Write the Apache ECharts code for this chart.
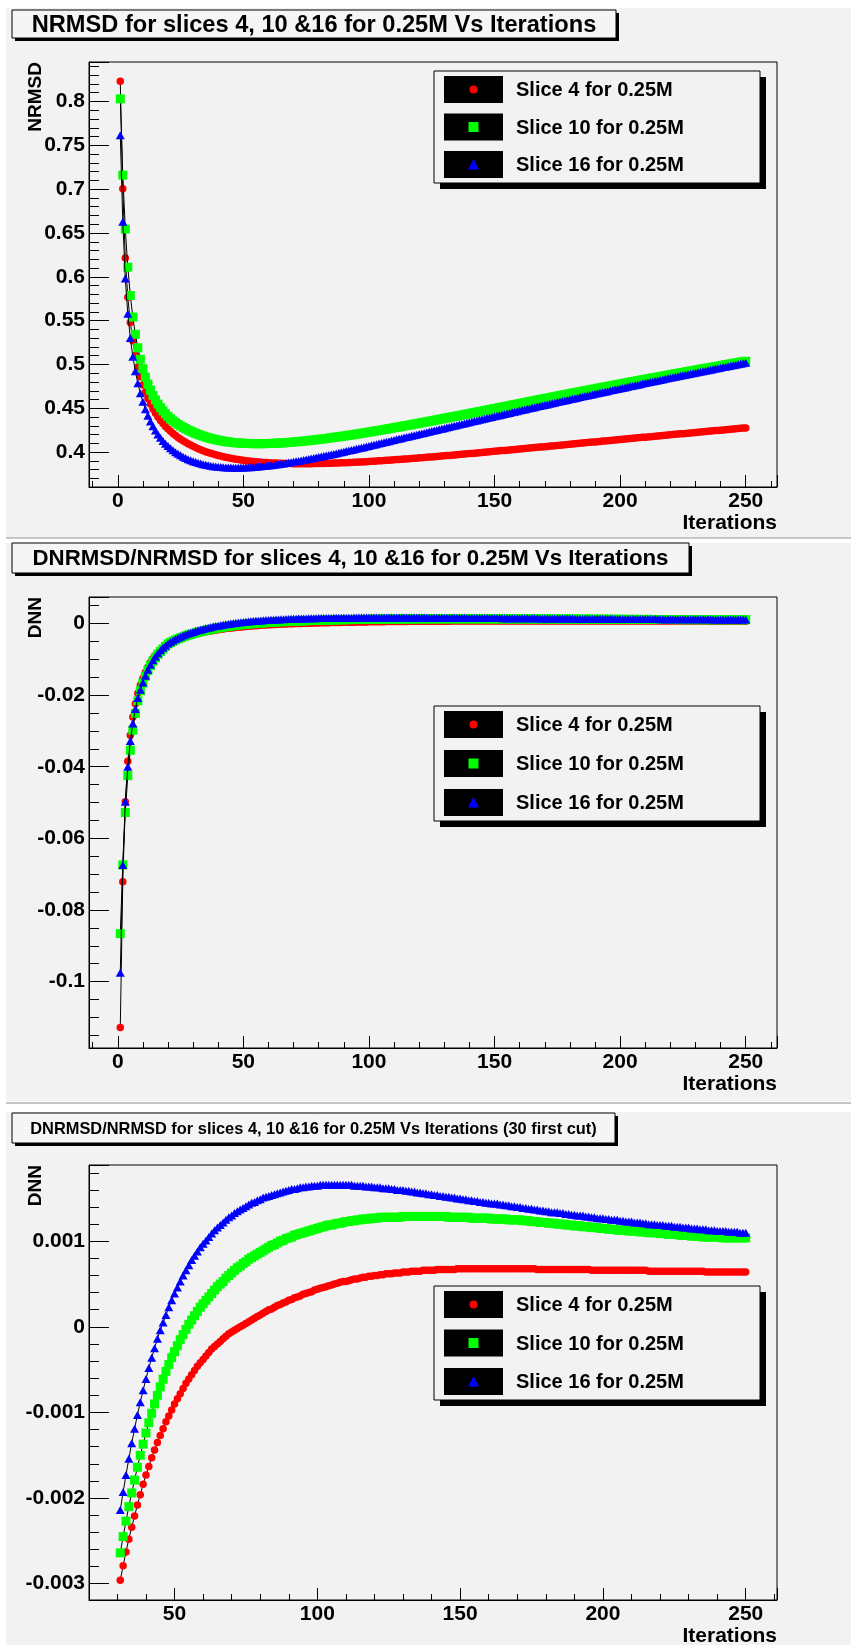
<!DOCTYPE html>
<html>
<head>
<meta charset="utf-8">
<script src="https://cdn.jsdelivr.net/npm/echarts@6/dist/echarts.min.js"></script>
<style>
  html, body { margin: 0; padding: 0; background: #ffffff; }
  #chart { width: 851px; height: 1645px; }
</style>
</head>
<body>
<div id="chart"></div>
<script>
// Iteration numbers (x values)
const iterations = [];
for (let i = 1; i <= 250; i++) iterations.push(i);

// Series labels
const seriesNames = ['Slice 4 for 0.25M', 'Slice 10 for 0.25M', 'Slice 16 for 0.25M'];

// NRMSD per iteration
const nrmsdSlice4 = [
  0.8230, 0.7005, 0.6215, 0.5767, 0.5480, 0.5270, 0.5105, 0.4972, 0.4861, 0.4766,
  0.4684, 0.4612, 0.4549, 0.4493, 0.4444, 0.4400, 0.4361, 0.4326, 0.4294, 0.4265,
  0.4238, 0.4213, 0.4190, 0.4168, 0.4148, 0.4129, 0.4112, 0.4096, 0.4081, 0.4067,
  0.4053, 0.4040, 0.4028, 0.4017, 0.4006, 0.3996, 0.3987, 0.3978, 0.3970, 0.3962,
  0.3955, 0.3948, 0.3942, 0.3936, 0.3930, 0.3925, 0.3920, 0.3915, 0.3911, 0.3907,
  0.3903, 0.3899, 0.3896, 0.3893, 0.3890, 0.3887, 0.3885, 0.3883, 0.3881, 0.3879,
  0.3877, 0.3876, 0.3875, 0.3874, 0.3873, 0.3872, 0.3871, 0.3870, 0.3870, 0.3869,
  0.3869, 0.3869, 0.3869, 0.3869, 0.3869, 0.3869, 0.3869, 0.3870, 0.3870, 0.3871,
  0.3871, 0.3872, 0.3873, 0.3873, 0.3874, 0.3875, 0.3876, 0.3877, 0.3878, 0.3879,
  0.3880, 0.3881, 0.3883, 0.3884, 0.3885, 0.3887, 0.3888, 0.3890, 0.3891, 0.3893,
  0.3895, 0.3897, 0.3899, 0.3901, 0.3903, 0.3905, 0.3907, 0.3909, 0.3911, 0.3913,
  0.3915, 0.3917, 0.3919, 0.3921, 0.3923, 0.3926, 0.3928, 0.3930, 0.3932, 0.3935,
  0.3937, 0.3939, 0.3942, 0.3944, 0.3946, 0.3949, 0.3951, 0.3954, 0.3956, 0.3958,
  0.3961, 0.3963, 0.3966, 0.3968, 0.3971, 0.3973, 0.3976, 0.3978, 0.3981, 0.3984,
  0.3986, 0.3989, 0.3991, 0.3994, 0.3997, 0.3999, 0.4002, 0.4004, 0.4007, 0.4010,
  0.4012, 0.4015, 0.4018, 0.4020, 0.4023, 0.4026, 0.4028, 0.4031, 0.4034, 0.4036,
  0.4039, 0.4042, 0.4044, 0.4047, 0.4050, 0.4052, 0.4055, 0.4058, 0.4060, 0.4063,
  0.4066, 0.4069, 0.4071, 0.4074, 0.4077, 0.4079, 0.4082, 0.4085, 0.4088, 0.4090,
  0.4093, 0.4096, 0.4098, 0.4101, 0.4104, 0.4107, 0.4109, 0.4112, 0.4115, 0.4117,
  0.4120, 0.4123, 0.4126, 0.4128, 0.4131, 0.4134, 0.4136, 0.4139, 0.4142, 0.4145,
  0.4147, 0.4150, 0.4153, 0.4155, 0.4158, 0.4161, 0.4163, 0.4166, 0.4169, 0.4171,
  0.4174, 0.4177, 0.4179, 0.4182, 0.4185, 0.4187, 0.4190, 0.4193, 0.4195, 0.4198,
  0.4201, 0.4203, 0.4206, 0.4209, 0.4211, 0.4214, 0.4217, 0.4219, 0.4222, 0.4225,
  0.4227, 0.4230, 0.4233, 0.4235, 0.4238, 0.4241, 0.4243, 0.4246, 0.4248, 0.4251,
  0.4254, 0.4256, 0.4259, 0.4262, 0.4264, 0.4267, 0.4269, 0.4272, 0.4275, 0.4277
];
const nrmsdSlice10 = [
  0.8030, 0.7160, 0.6545, 0.6110, 0.5787, 0.5541, 0.5345, 0.5190, 0.5060, 0.4952,
  0.4856, 0.4776, 0.4708, 0.4648, 0.4595, 0.4549, 0.4508, 0.4470, 0.4437, 0.4408,
  0.4381, 0.4358, 0.4337, 0.4318, 0.4299, 0.4283, 0.4268, 0.4253, 0.4240, 0.4227,
  0.4215, 0.4204, 0.4193, 0.4183, 0.4174, 0.4165, 0.4157, 0.4150, 0.4143, 0.4137,
  0.4131, 0.4126, 0.4121, 0.4117, 0.4113, 0.4110, 0.4107, 0.4105, 0.4103, 0.4101,
  0.4100, 0.4099, 0.4098, 0.4097, 0.4097, 0.4097, 0.4097, 0.4097, 0.4098, 0.4099,
  0.4100, 0.4101, 0.4102, 0.4104, 0.4105, 0.4107, 0.4109, 0.4111, 0.4113, 0.4116,
  0.4118, 0.4121, 0.4123, 0.4126, 0.4129, 0.4132, 0.4135, 0.4139, 0.4142, 0.4145,
  0.4149, 0.4152, 0.4156, 0.4160, 0.4164, 0.4168, 0.4172, 0.4176, 0.4180, 0.4184,
  0.4188, 0.4192, 0.4197, 0.4201, 0.4206, 0.4210, 0.4215, 0.4219, 0.4224, 0.4229,
  0.4234, 0.4239, 0.4243, 0.4248, 0.4253, 0.4258, 0.4263, 0.4268, 0.4273, 0.4278,
  0.4283, 0.4288, 0.4294, 0.4299, 0.4304, 0.4309, 0.4314, 0.4320, 0.4325, 0.4330,
  0.4336, 0.4341, 0.4346, 0.4352, 0.4357, 0.4363, 0.4368, 0.4374, 0.4379, 0.4385,
  0.4390, 0.4396, 0.4401, 0.4407, 0.4412, 0.4418, 0.4423, 0.4429, 0.4435, 0.4440,
  0.4446, 0.4451, 0.4457, 0.4463, 0.4468, 0.4474, 0.4480, 0.4485, 0.4491, 0.4497,
  0.4502, 0.4508, 0.4514, 0.4519, 0.4525, 0.4531, 0.4537, 0.4542, 0.4548, 0.4554,
  0.4559, 0.4565, 0.4571, 0.4577, 0.4582, 0.4588, 0.4594, 0.4599, 0.4605, 0.4611,
  0.4616, 0.4622, 0.4628, 0.4633, 0.4639, 0.4645, 0.4650, 0.4656, 0.4661, 0.4667,
  0.4673, 0.4678, 0.4684, 0.4689, 0.4695, 0.4700, 0.4706, 0.4711, 0.4717, 0.4722,
  0.4728, 0.4733, 0.4739, 0.4744, 0.4750, 0.4755, 0.4761, 0.4766, 0.4772, 0.4777,
  0.4782, 0.4788, 0.4793, 0.4799, 0.4804, 0.4809, 0.4815, 0.4820, 0.4825, 0.4831,
  0.4836, 0.4841, 0.4847, 0.4852, 0.4857, 0.4862, 0.4868, 0.4873, 0.4878, 0.4883,
  0.4889, 0.4894, 0.4899, 0.4904, 0.4909, 0.4915, 0.4920, 0.4925, 0.4930, 0.4935,
  0.4940, 0.4946, 0.4951, 0.4956, 0.4961, 0.4966, 0.4971, 0.4976, 0.4981, 0.4986,
  0.4992, 0.4997, 0.5002, 0.5007, 0.5012, 0.5017, 0.5022, 0.5027, 0.5032, 0.5037
];
const nrmsdSlice16 = [
  0.7615, 0.6628, 0.5982, 0.5579, 0.5301, 0.5089, 0.4922, 0.4785, 0.4671, 0.4574,
  0.4489, 0.4415, 0.4351, 0.4295, 0.4246, 0.4202, 0.4163, 0.4128, 0.4097, 0.4069,
  0.4044, 0.4021, 0.4000, 0.3981, 0.3964, 0.3948, 0.3933, 0.3920, 0.3908, 0.3897,
  0.3887, 0.3878, 0.3870, 0.3863, 0.3856, 0.3850, 0.3845, 0.3840, 0.3836, 0.3833,
  0.3830, 0.3828, 0.3826, 0.3825, 0.3824, 0.3823, 0.3823, 0.3823, 0.3824, 0.3825,
  0.3826, 0.3827, 0.3829, 0.3831, 0.3833, 0.3836, 0.3838, 0.3841, 0.3844, 0.3848,
  0.3851, 0.3855, 0.3859, 0.3863, 0.3867, 0.3871, 0.3876, 0.3881, 0.3885, 0.3890,
  0.3895, 0.3900, 0.3905, 0.3911, 0.3916, 0.3921, 0.3927, 0.3933, 0.3938, 0.3944,
  0.3950, 0.3956, 0.3962, 0.3968, 0.3974, 0.3980, 0.3986, 0.3993, 0.3999, 0.4005,
  0.4012, 0.4018, 0.4025, 0.4031, 0.4038, 0.4044, 0.4051, 0.4057, 0.4064, 0.4071,
  0.4078, 0.4084, 0.4091, 0.4098, 0.4105, 0.4112, 0.4118, 0.4125, 0.4132, 0.4139,
  0.4146, 0.4152, 0.4159, 0.4166, 0.4173, 0.4180, 0.4186, 0.4193, 0.4200, 0.4207,
  0.4213, 0.4220, 0.4227, 0.4234, 0.4241, 0.4247, 0.4254, 0.4261, 0.4268, 0.4274,
  0.4281, 0.4288, 0.4295, 0.4301, 0.4308, 0.4315, 0.4322, 0.4328, 0.4335, 0.4342,
  0.4349, 0.4355, 0.4362, 0.4369, 0.4375, 0.4382, 0.4389, 0.4395, 0.4402, 0.4409,
  0.4415, 0.4422, 0.4428, 0.4435, 0.4442, 0.4448, 0.4455, 0.4461, 0.4468, 0.4474,
  0.4481, 0.4487, 0.4494, 0.4500, 0.4507, 0.4513, 0.4520, 0.4526, 0.4533, 0.4539,
  0.4545, 0.4552, 0.4558, 0.4565, 0.4571, 0.4577, 0.4584, 0.4590, 0.4596, 0.4603,
  0.4609, 0.4615, 0.4622, 0.4628, 0.4634, 0.4640, 0.4647, 0.4653, 0.4659, 0.4665,
  0.4672, 0.4678, 0.4684, 0.4690, 0.4696, 0.4703, 0.4709, 0.4715, 0.4721, 0.4727,
  0.4733, 0.4739, 0.4745, 0.4751, 0.4758, 0.4764, 0.4770, 0.4776, 0.4782, 0.4788,
  0.4794, 0.4800, 0.4806, 0.4812, 0.4818, 0.4824, 0.4830, 0.4836, 0.4842, 0.4848,
  0.4854, 0.4860, 0.4865, 0.4871, 0.4877, 0.4883, 0.4889, 0.4895, 0.4901, 0.4907,
  0.4912, 0.4918, 0.4924, 0.4930, 0.4935, 0.4941, 0.4947, 0.4953, 0.4958, 0.4964,
  0.4970, 0.4975, 0.4981, 0.4987, 0.4992, 0.4998, 0.5004, 0.5009, 0.5015, 0.5021
];

// DNRMSD/NRMSD (DNN) per iteration
const dnnSlice4 = [
  -0.1128, -0.0721, -0.0498, -0.0385, -0.0312, -0.0261, -0.0224, -0.0195, -0.0172, -0.0153,
  -0.0136, -0.0122, -0.0109, -0.0098, -0.0089, -0.0081, -0.0074, -0.0068, -0.0063, -0.00587,
  -0.00548, -0.00513, -0.00480, -0.00450, -0.00423, -0.00398, -0.00375, -0.00353, -0.00333, -0.00314,
  -0.00296, -0.00279, -0.00263, -0.00248, -0.00234, -0.00221, -0.00208, -0.00196, -0.00184, -0.00173,
  -0.00163, -0.00153, -0.00144, -0.00135, -0.00127, -0.00119, -0.00111, -0.00104, -0.00097, -0.00090,
  -0.00084, -0.00078, -0.00072, -0.00066, -0.00061, -0.00056, -0.00051, -0.00046, -0.00042, -0.00038,
  -0.00034, -0.00030, -0.00026, -0.00023, -0.00020, -0.00017, -0.00014, -0.00011, -0.00008, -0.00006,
  -0.00004, -0.00002, 0.00000, 0.00002, 0.00004, 0.00006, 0.00008, 0.00010, 0.00012, 0.00014,
  0.00016, 0.00018, 0.00020, 0.00021, 0.00023, 0.00025, 0.00026, 0.00028, 0.00029, 0.00031,
  0.00032, 0.00034, 0.00035, 0.00036, 0.00038, 0.00039, 0.00040, 0.00041, 0.00043, 0.00044,
  0.00045, 0.00046, 0.00047, 0.00048, 0.00049, 0.00050, 0.00051, 0.00052, 0.00053, 0.00053,
  0.00054, 0.00055, 0.00056, 0.00056, 0.00057, 0.00058, 0.00058, 0.00059, 0.00059, 0.00060,
  0.00060, 0.00061, 0.00061, 0.00062, 0.00062, 0.00062, 0.00063, 0.00063, 0.00063, 0.00064,
  0.00064, 0.00064, 0.00065, 0.00065, 0.00065, 0.00065, 0.00066, 0.00066, 0.00066, 0.00066,
  0.00066, 0.00067, 0.00067, 0.00067, 0.00067, 0.00067, 0.00067, 0.00067, 0.00068, 0.00068,
  0.00068, 0.00068, 0.00068, 0.00068, 0.00068, 0.00068, 0.00068, 0.00068, 0.00068, 0.00068,
  0.00068, 0.00068, 0.00068, 0.00068, 0.00068, 0.00068, 0.00068, 0.00068, 0.00068, 0.00068,
  0.00068, 0.00068, 0.00068, 0.00068, 0.00068, 0.00068, 0.00067, 0.00067, 0.00067, 0.00067,
  0.00067, 0.00067, 0.00067, 0.00067, 0.00067, 0.00067, 0.00067, 0.00067, 0.00067, 0.00067,
  0.00067, 0.00067, 0.00067, 0.00067, 0.00067, 0.00066, 0.00066, 0.00066, 0.00066, 0.00066,
  0.00066, 0.00066, 0.00066, 0.00066, 0.00066, 0.00066, 0.00066, 0.00066, 0.00066, 0.00066,
  0.00066, 0.00066, 0.00066, 0.00066, 0.00066, 0.00065, 0.00065, 0.00065, 0.00065, 0.00065,
  0.00065, 0.00065, 0.00065, 0.00065, 0.00065, 0.00065, 0.00065, 0.00065, 0.00065, 0.00065,
  0.00065, 0.00065, 0.00065, 0.00065, 0.00065, 0.00064, 0.00064, 0.00064, 0.00064, 0.00064,
  0.00064, 0.00064, 0.00064, 0.00064, 0.00064, 0.00064, 0.00064, 0.00064, 0.00064, 0.00064
];
const dnnSlice10 = [
  -0.0866, -0.0674, -0.0528, -0.0425, -0.0354, -0.0298, -0.0251, -0.0216, -0.0188, -0.0166,
  -0.0147, -0.0131, -0.0117, -0.0105, -0.0095, -0.0086, -0.0078, -0.0071, -0.0064, -0.0057,
  -0.00530, -0.00495, -0.00460, -0.00430, -0.00402, -0.00375, -0.00350, -0.00327, -0.00305, -0.00284,
  -0.00264, -0.00245, -0.00227, -0.00210, -0.00194, -0.00179, -0.00164, -0.00150, -0.00137, -0.00124,
  -0.00112, -0.00101, -0.00090, -0.00080, -0.00070, -0.00061, -0.00052, -0.00044, -0.00036, -0.00029,
  -0.00022, -0.00015, -0.00009, -0.00003, 0.00003, 0.00008, 0.00013, 0.00018, 0.00023, 0.00027,
  0.00031, 0.00035, 0.00039, 0.00043, 0.00047, 0.00050, 0.00053, 0.00057, 0.00060, 0.00063,
  0.00066, 0.00069, 0.00071, 0.00074, 0.00076, 0.00079, 0.00081, 0.00083, 0.00085, 0.00087,
  0.00089, 0.00091, 0.00093, 0.00095, 0.00096, 0.00098, 0.00100, 0.00101, 0.00103, 0.00104,
  0.00105, 0.00107, 0.00108, 0.00109, 0.00110, 0.00111, 0.00112, 0.00113, 0.00114, 0.00115,
  0.00116, 0.00117, 0.00118, 0.00119, 0.00119, 0.00120, 0.00121, 0.00121, 0.00122, 0.00123,
  0.00123, 0.00124, 0.00124, 0.00125, 0.00125, 0.00126, 0.00126, 0.00126, 0.00127, 0.00127,
  0.00127, 0.00128, 0.00128, 0.00128, 0.00128, 0.00128, 0.00128, 0.00128, 0.00128, 0.00129,
  0.00129, 0.00129, 0.00129, 0.00129, 0.00129, 0.00129, 0.00129, 0.00129, 0.00129, 0.00129,
  0.00129, 0.00129, 0.00129, 0.00129, 0.00129, 0.00128, 0.00128, 0.00128, 0.00128, 0.00128,
  0.00128, 0.00128, 0.00128, 0.00127, 0.00127, 0.00127, 0.00127, 0.00127, 0.00127, 0.00127,
  0.00126, 0.00126, 0.00126, 0.00126, 0.00126, 0.00126, 0.00125, 0.00125, 0.00125, 0.00125,
  0.00125, 0.00124, 0.00124, 0.00124, 0.00123, 0.00123, 0.00123, 0.00122, 0.00122, 0.00122,
  0.00121, 0.00121, 0.00121, 0.00120, 0.00120, 0.00120, 0.00119, 0.00119, 0.00119, 0.00118,
  0.00118, 0.00118, 0.00117, 0.00117, 0.00117, 0.00116, 0.00116, 0.00116, 0.00115, 0.00115,
  0.00115, 0.00114, 0.00114, 0.00114, 0.00113, 0.00113, 0.00113, 0.00113, 0.00112, 0.00112,
  0.00112, 0.00112, 0.00111, 0.00111, 0.00111, 0.00110, 0.00110, 0.00110, 0.00110, 0.00109,
  0.00109, 0.00109, 0.00108, 0.00108, 0.00108, 0.00108, 0.00107, 0.00107, 0.00107, 0.00107,
  0.00106, 0.00106, 0.00106, 0.00106, 0.00105, 0.00105, 0.00105, 0.00105, 0.00105, 0.00105,
  0.00105, 0.00104, 0.00104, 0.00104, 0.00104, 0.00104, 0.00104, 0.00104, 0.00104, 0.00104
];
const dnnSlice16 = [
  -0.0975, -0.0674, -0.0498, -0.0400, -0.0328, -0.0279, -0.0239, -0.0208, -0.0185, -0.0165,
  -0.0146, -0.0129, -0.0115, -0.0103, -0.0092, -0.0083, -0.0075, -0.0068, -0.0062, -0.0056,
  -0.00515, -0.00473, -0.00435, -0.00400, -0.00368, -0.00338, -0.00310, -0.00284, -0.00259, -0.00236,
  -0.00214, -0.00193, -0.00173, -0.00154, -0.00136, -0.00119, -0.00103, -0.00088, -0.00074, -0.00061,
  -0.00048, -0.00036, -0.00025, -0.00014, -0.00004, 0.00005, 0.00014, 0.00023, 0.00031, 0.00039,
  0.00046, 0.00053, 0.00060, 0.00066, 0.00072, 0.00078, 0.00083, 0.00088, 0.00093, 0.00097,
  0.00101, 0.00105, 0.00109, 0.00113, 0.00116, 0.00119, 0.00122, 0.00125, 0.00128, 0.00130,
  0.00133, 0.00135, 0.00137, 0.00139, 0.00141, 0.00143, 0.00145, 0.00146, 0.00148, 0.00149,
  0.00151, 0.00152, 0.00153, 0.00154, 0.00155, 0.00156, 0.00157, 0.00158, 0.00159, 0.00160,
  0.00161, 0.00161, 0.00162, 0.00163, 0.00163, 0.00164, 0.00164, 0.00165, 0.00165, 0.00165,
  0.00166, 0.00166, 0.00166, 0.00166, 0.00166, 0.00166, 0.00166, 0.00166, 0.00166, 0.00166,
  0.00166, 0.00166, 0.00165, 0.00165, 0.00165, 0.00165, 0.00164, 0.00164, 0.00164, 0.00163,
  0.00163, 0.00163, 0.00162, 0.00162, 0.00162, 0.00161, 0.00161, 0.00160, 0.00160, 0.00160,
  0.00159, 0.00159, 0.00158, 0.00158, 0.00157, 0.00157, 0.00156, 0.00156, 0.00155, 0.00155,
  0.00154, 0.00154, 0.00153, 0.00153, 0.00152, 0.00152, 0.00151, 0.00151, 0.00150, 0.00150,
  0.00149, 0.00149, 0.00148, 0.00148, 0.00147, 0.00147, 0.00146, 0.00146, 0.00145, 0.00145,
  0.00144, 0.00144, 0.00144, 0.00143, 0.00143, 0.00142, 0.00142, 0.00141, 0.00141, 0.00140,
  0.00140, 0.00139, 0.00139, 0.00138, 0.00138, 0.00137, 0.00137, 0.00136, 0.00136, 0.00135,
  0.00135, 0.00134, 0.00134, 0.00134, 0.00133, 0.00133, 0.00132, 0.00132, 0.00131, 0.00131,
  0.00130, 0.00130, 0.00130, 0.00129, 0.00129, 0.00128, 0.00128, 0.00127, 0.00127, 0.00127,
  0.00126, 0.00126, 0.00125, 0.00125, 0.00125, 0.00124, 0.00124, 0.00123, 0.00123, 0.00123,
  0.00122, 0.00122, 0.00122, 0.00121, 0.00121, 0.00120, 0.00120, 0.00120, 0.00119, 0.00119,
  0.00119, 0.00118, 0.00118, 0.00118, 0.00117, 0.00117, 0.00117, 0.00116, 0.00116, 0.00116,
  0.00115, 0.00115, 0.00115, 0.00114, 0.00114, 0.00114, 0.00113, 0.00113, 0.00113, 0.00112,
  0.00112, 0.00112, 0.00112, 0.00111, 0.00111, 0.00111, 0.00111, 0.00110, 0.00110, 0.00110
];

// The third panel skips the first 30 iterations
const cutCount = 30;

// Panel titles and axis titles
const panelTitles = [
  'NRMSD for slices 4, 10 &16 for 0.25M Vs Iterations',
  'DNRMSD/NRMSD for slices 4, 10 &16 for 0.25M Vs Iterations',
  'DNRMSD/NRMSD for slices 4, 10 &16 for 0.25M Vs Iterations (30 first cut)'
];
const yTitles = ['NRMSD', 'DNN', 'DNN'];
const xTitle = 'Iterations';

// ---------------------------------------------------------------------------
const FONT = '"Liberation Sans", Arial, Helvetica, sans-serif';
const BG = '#f2f2f2';
const COLORS = ['#ff0000', '#00ff00', '#0000ff'];
const SYMBOLS = ['circle', 'rect', 'triangle'];
const SYMBOL_SIZES = [7.5, 9, [9, 8]];

const GRID_LEFT = 89, GRID_WIDTH = 688;
const grids = [
  { top: 62, height: 425 },
  { top: 597, height: 451 },
  { top: 1165, height: 435 }
];

// axis range: data extent padded by 5% on each side
function padRange(arrays) {
  let lo = Infinity, hi = -Infinity;
  arrays.forEach(a => a.forEach(v => { if (v < lo) lo = v; if (v > hi) hi = v; }));
  const d = (hi - lo) * 0.05;
  return [lo - d, hi + d];
}

function tickFmt(step) {
  return function (v) {
    const k = v / step, r = Math.round(k);
    if (Math.abs(k - r) > 1e-6) return '';
    return String(parseFloat((r * step).toFixed(6)));
  };
}

// font size that makes a text span a given width
const measureCtx = document.createElement('canvas').getContext('2d');
function fitFontSize(text, weight, width) {
  measureCtx.font = weight + ' 100px ' + FONT;
  return 100 * width / measureCtx.measureText(text).width;
}

const labelStyle = { color: '#000', fontFamily: FONT, fontWeight: 'bold', fontSize: 21 };

function xAxisCfg(gridIndex, range) {
  return {
    type: 'value', gridIndex, min: range[0], max: range[1],
    splitNumber: 5, minInterval: 50, maxInterval: 50,
    axisLine: { show: true, onZero: false, lineStyle: { color: '#000', width: 1 } },
    axisTick: { show: true, inside: true, length: 12, lineStyle: { color: '#000', width: 1 } },
    minorTick: { show: true, splitNumber: 5, length: 6, lineStyle: { color: '#000', width: 1 } },
    splitLine: { show: false }, minorSplitLine: { show: false },
    axisLabel: Object.assign({ formatter: tickFmt(50), margin: 4 }, labelStyle)
  };
}
function yAxisCfg(gridIndex, range, step, minorSplit) {
  return {
    type: 'value', gridIndex, min: range[0], max: range[1],
    splitNumber: Math.round((range[1] - range[0]) / step), minInterval: step, maxInterval: step,
    axisLine: { show: true, onZero: false, lineStyle: { color: '#000', width: 1 } },
    axisTick: { show: true, inside: true, length: 20, lineStyle: { color: '#000', width: 1 } },
    minorTick: { show: true, splitNumber: minorSplit, length: 10, lineStyle: { color: '#000', width: 1 } },
    splitLine: { show: false }, minorSplitLine: { show: false },
    axisLabel: Object.assign({ formatter: tickFmt(step), margin: 4 }, labelStyle)
  };
}

function pairs(xs, ys) { return ys.map((y, i) => [xs[i], y]); }

function makeSeries(gridIndex, xs, ysList) {
  return ysList.map((ys, k) => ({
    type: 'line', name: seriesNames[k],
    xAxisIndex: gridIndex, yAxisIndex: gridIndex,
    data: pairs(xs, ys),
    symbol: SYMBOLS[k], symbolSize: SYMBOL_SIZES[k], showSymbol: true,
    itemStyle: { color: COLORS[k], borderWidth: 0 },
    lineStyle: { color: '#000', width: 1 },
    silent: true, animation: false, clip: true, z: 2 + k
  }));
}

const cutIterations = iterations.slice(cutCount);
const cut4 = dnnSlice4.slice(cutCount), cut10 = dnnSlice10.slice(cutCount), cut16 = dnnSlice16.slice(cutCount);

const xRangeFull = padRange([iterations]);
const xRangeCut = padRange([cutIterations]);
const yRange1 = padRange([nrmsdSlice4, nrmsdSlice10, nrmsdSlice16]);
const yRange2 = padRange([dnnSlice4, dnnSlice10, dnnSlice16]);
const yRange3 = padRange([cut4, cut10, cut16]);

// --------------------------- decorations -----------------------------------
const graphics = [];
// pad backgrounds and separators
graphics.push({ type: 'rect', z: -10, silent: true, shape: { x: 6, y: 8, width: 845, height: 529 }, style: { fill: BG } });
graphics.push({ type: 'rect', z: -10, silent: true, shape: { x: 6, y: 537, width: 845, height: 2 }, style: { fill: '#c6c6c6' } });
graphics.push({ type: 'rect', z: -10, silent: true, shape: { x: 6, y: 543, width: 845, height: 558 }, style: { fill: BG } });
graphics.push({ type: 'rect', z: -10, silent: true, shape: { x: 6, y: 1102, width: 845, height: 2 }, style: { fill: '#c6c6c6' } });
graphics.push({ type: 'rect', z: -10, silent: true, shape: { x: 6, y: 1112, width: 845, height: 533 }, style: { fill: BG } });

// title boxes (text width sets the font size)
const titleBoxes = [
  { x: 12, y: 10, w: 604, h: 28, textWidth: 565 },
  { x: 12, y: 543, w: 677, h: 30, textWidth: 636 },
  { x: 12, y: 1113, w: 603, h: 30, textWidth: 567 }
];
titleBoxes.forEach((b, i) => {
  const size = fitFontSize(panelTitles[i], 'bold', b.textWidth);
  graphics.push({ type: 'rect', z: 20, silent: true, shape: { x: b.x + 3, y: b.y + 3, width: b.w, height: b.h }, style: { fill: '#000' } });
  graphics.push({ type: 'rect', z: 21, silent: true, shape: { x: b.x, y: b.y, width: b.w, height: b.h }, style: { fill: '#f5f5f5', stroke: '#000', lineWidth: 1 } });
  graphics.push({ type: 'text', z: 22, silent: true, x: b.x + b.w / 2, y: b.y + b.h / 2 + 1,
    style: { text: panelTitles[i], fill: '#000', font: 'bold ' + size.toFixed(2) + 'px ' + FONT, align: 'center', verticalAlign: 'middle' } });
});

// axis titles
grids.forEach((g, i) => {
  graphics.push({ type: 'text', z: 22, silent: true, x: 36, y: g.top, rotation: Math.PI / 2,
    style: { text: yTitles[i], fill: '#000', font: 'bold 19px ' + FONT, align: 'right', verticalAlign: 'middle' } });
  graphics.push({ type: 'text', z: 22, silent: true, x: GRID_LEFT + GRID_WIDTH, y: g.top + g.height + 36,
    style: { text: xTitle, fill: '#000', font: 'bold 21px ' + FONT, align: 'right', verticalAlign: 'middle' } });
});

// legends
const legendBoxes = [
  { top: 71, height: 112 },
  { top: 706, height: 115 },
  { top: 1286, height: 114 }
];
legendBoxes.forEach(lb => {
  const left = 434, width = 326;
  graphics.push({ type: 'rect', z: 20, silent: true, shape: { x: left + 6, y: lb.top + 6, width, height: lb.height }, style: { fill: '#000' } });
  graphics.push({ type: 'rect', z: 21, silent: true, shape: { x: left, y: lb.top, width, height: lb.height }, style: { fill: BG, stroke: '#000', lineWidth: 1 } });
  const pitch = (lb.height - 10 - 27) / 2;
  seriesNames.forEach((name, k) => {
    const rowTop = lb.top + 5 + k * pitch;
    const cy = rowTop + 13.5, cx = 473.5;
    graphics.push({ type: 'rect', z: 22, silent: true, shape: { x: 444, y: rowTop, width: 59, height: 27 }, style: { fill: '#000' } });
    if (k === 0) graphics.push({ type: 'circle', z: 23, silent: true, shape: { cx, cy, r: 4 }, style: { fill: COLORS[0] } });
    if (k === 1) graphics.push({ type: 'rect', z: 23, silent: true, shape: { x: cx - 5, y: cy - 5, width: 10, height: 10 }, style: { fill: COLORS[1] } });
    if (k === 2) graphics.push({ type: 'polygon', z: 23, silent: true, shape: { points: [[cx, cy - 5.5], [cx + 5.5, cy + 5], [cx - 5.5, cy + 5]] }, style: { fill: COLORS[2] } });
    graphics.push({ type: 'text', z: 23, silent: true, x: 516, y: cy + 1,
      style: { text: name, fill: '#000', font: 'bold 20px ' + FONT, align: 'left', verticalAlign: 'middle' } });
  });
});

const option = {
  animation: false,
  backgroundColor: '#ffffff',
  grid: grids.map(g => ({
    left: GRID_LEFT, top: g.top, width: GRID_WIDTH, height: g.height,
    show: true, borderColor: '#000', borderWidth: 1, backgroundColor: 'transparent', containLabel: false
  })),
  xAxis: [xAxisCfg(0, xRangeFull), xAxisCfg(1, xRangeFull), xAxisCfg(2, xRangeCut)],
  yAxis: [yAxisCfg(0, yRange1, 0.05, 5), yAxisCfg(1, yRange2, 0.02, 4), yAxisCfg(2, yRange3, 0.001, 5)],
  series: [].concat(
    makeSeries(0, iterations, [nrmsdSlice4, nrmsdSlice10, nrmsdSlice16]),
    makeSeries(1, iterations, [dnnSlice4, dnnSlice10, dnnSlice16]),
    makeSeries(2, cutIterations, [cut4, cut10, cut16])
  ),
  graphic: { elements: graphics }
};

const chart = echarts.init(document.getElementById('chart'), null, { renderer: 'canvas', width: 851, height: 1645 });
chart.setOption(option);
</script>
</body>
</html>
